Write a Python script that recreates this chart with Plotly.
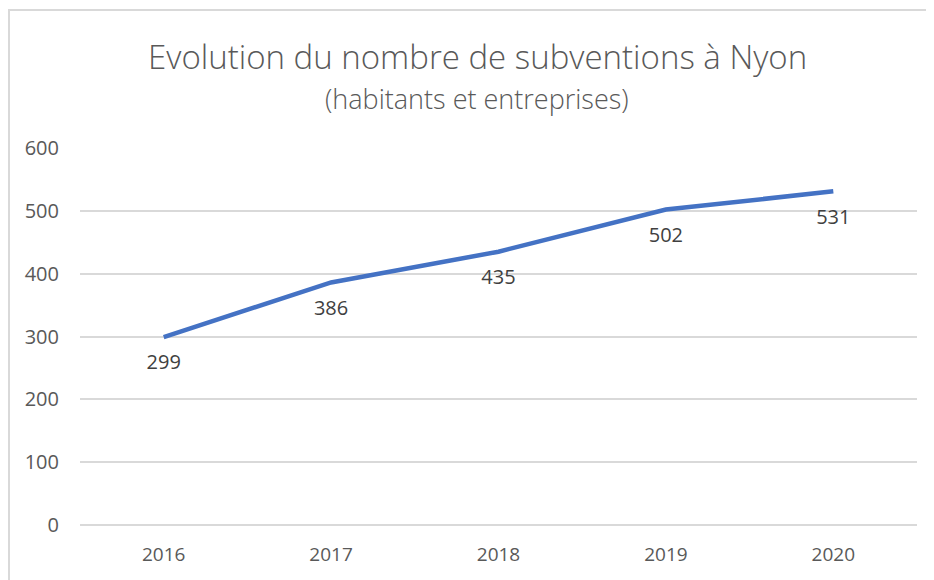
import plotly.graph_objects as go

years = ["2016", "2017", "2018", "2019", "2020"]
values = [299, 386, 435, 502, 531]
y_ticks = [0, 100, 200, 300, 400, 500, 600]
title_main = "Evolution du nombre de subventions à Nyon"
title_sub = "(habitants et entreprises)"

FONT = "Open Sans"
OFF = 8  # page body margin
W, H = 934 - OFF, 580 - OFF
L = 80 - OFF
T = 148 - OFF
R = W - (917 - OFF)
B = H - (525 - OFF)
pw = W - L - R
ph = H - T - B


def px2paper_x(px):
    return (px - OFF - L) / pw


def px2paper_y(py):
    return (H - B - (py - OFF)) / ph


fig = go.Figure()
fig.add_trace(go.Scatter(
    x=years, y=values, mode="lines+markers+text",
    text=[str(v) for v in values], textposition="bottom center",
    textfont=dict(family=FONT, size=20, color="#404040"),
    marker=dict(size=26, color="rgba(0,0,0,0)"),
    line=dict(color="#4472C4", width=4.5),
    hoverinfo="skip", cliponaxis=False,
))

annotations = [
    dict(text=title_main, xref="paper", yref="paper",
         x=px2paper_x(477), y=px2paper_y(56), xanchor="center", yanchor="middle",
         showarrow=False, font=dict(family=FONT, size=33, color="#595959", weight=300)),
    dict(text=title_sub, xref="paper", yref="paper",
         x=px2paper_x(477), y=px2paper_y(98), xanchor="center", yanchor="middle",
         showarrow=False, font=dict(family=FONT, size=27, color="#595959", weight=300)),
]

fig.update_layout(
    width=W, height=H,
    margin=dict(l=L, r=R, t=T, b=B),
    paper_bgcolor="white", plot_bgcolor="white",
    showlegend=False,
    xaxis=dict(type="category", showgrid=False, showline=False, ticks="",
               tickfont=dict(family=FONT, size=19, color="#595959"),
               ticklabelstandoff=16,
               range=[-0.5, 4.5], fixedrange=True),
    yaxis=dict(range=[0, 600], tickvals=y_ticks, showgrid=True,
               gridcolor="#D9D9D9", gridwidth=1.5, zeroline=True,
               zerolinecolor="#D9D9D9", zerolinewidth=1.5,
               showline=False, ticks="", ticklen=0,
               ticklabelstandoff=20,
               tickfont=dict(family=FONT, size=20, color="#595959"),
               fixedrange=True),
    annotations=annotations,
    shapes=[
        dict(type="line", xref="paper", yref="paper",
             x0=px2paper_x(9), x1=px2paper_x(9), y0=px2paper_y(10), y1=px2paper_y(590),
             line=dict(color="#D9D9D9", width=2)),
        dict(type="line", xref="paper", yref="paper",
             x0=px2paper_x(8), x1=px2paper_x(940), y0=px2paper_y(10), y1=px2paper_y(10),
             line=dict(color="#D9D9D9", width=2)),
    ],
)

fig.write_html("out.html")
